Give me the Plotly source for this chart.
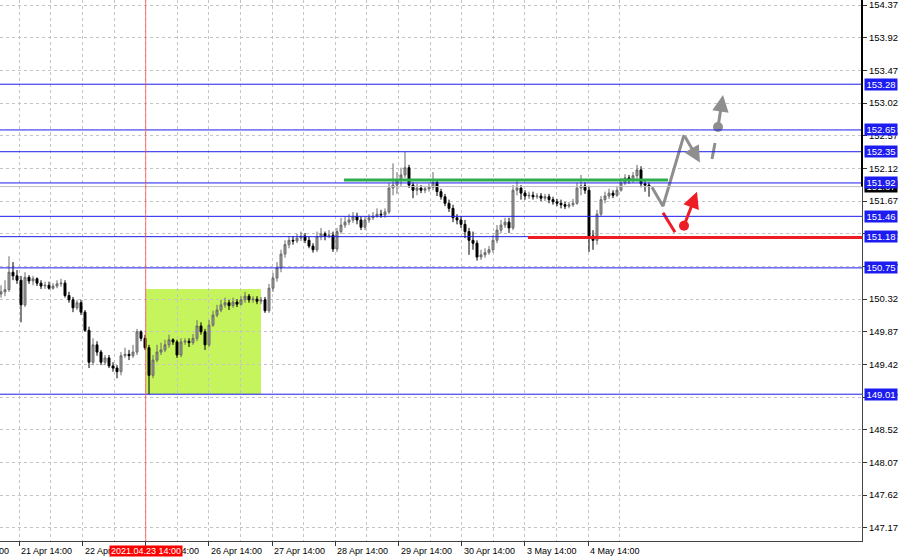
import plotly.graph_objects as go

# ---------------- data (prices) ----------------
opens = [150.39, 150.42, 150.45, 150.69, 150.64, 150.58, 150.24, 150.62, 150.57, 150.60,
         150.54, 150.50, 150.51, 150.47, 150.50, 150.53, 150.54, 150.37, 150.31, 150.20,
         150.27, 150.14, 149.89, 149.45, 149.69, 149.59, 149.45, 149.51, 149.40, 149.37,
         149.32, 149.54, 149.56, 149.54, 149.59, 149.87, 149.78, 149.65, 149.27, 149.48,
         149.59, 149.62, 149.69, 149.76, 149.73, 149.55, 149.73, 149.74, 149.72, 149.78,
         149.95, 149.87, 149.69, 149.96, 150.10, 150.17, 150.24, 150.27, 150.23, 150.28,
         150.25, 150.31, 150.36, 150.31, 150.32, 150.29, 150.31, 150.16, 150.47, 150.61,
         150.75, 150.94, 151.07, 151.13, 151.12, 151.16, 151.19, 151.13, 151.05, 151.00,
         151.18, 151.22, 151.19, 151.20, 151.01, 151.25, 151.34, 151.38, 151.41, 151.46,
         151.41, 151.31, 151.41, 151.44, 151.46, 151.49, 151.48, 151.52, 151.85, 151.89,
         151.96, 152.03, 152.13, 151.89, 151.82, 151.85, 151.82, 151.84, 151.86, 151.93,
         151.80, 151.73, 151.64, 151.57, 151.44, 151.41, 151.35, 151.25, 151.13, 151.09,
         150.90, 150.93, 150.96, 151.00, 151.13, 151.27, 151.34, 151.38, 151.30, 151.82,
         151.85, 151.78, 151.74, 151.75, 151.73, 151.74, 151.71, 151.73, 151.69, 151.66,
         151.64, 151.62, 151.60, 151.62, 151.64, 151.85, 151.88, 151.82, 151.19, 151.13,
         151.49, 151.69, 151.74, 151.78, 151.75, 151.82, 151.92, 151.99, 151.96, 152.02,
         152.10, 151.91, 151.89]
highs = [150.51, 150.58, 150.91, 150.83, 150.72, 150.64, 150.69, 150.65, 150.64, 150.62,
         150.58, 150.56, 150.56, 150.54, 150.58, 150.60, 150.58, 150.42, 150.35, 150.31,
         150.31, 150.17, 149.94, 149.78, 149.74, 149.62, 149.55, 149.55, 149.45, 149.41,
         149.59, 149.65, 149.62, 149.69, 149.91, 149.89, 149.83, 149.69, 149.55, 149.69,
         149.72, 149.76, 149.83, 149.78, 149.76, 149.78, 149.78, 149.78, 149.84, 150.03,
         150.00, 149.91, 150.03, 150.16, 150.24, 150.31, 150.34, 150.31, 150.34, 150.32,
         150.36, 150.42, 150.39, 150.36, 150.36, 150.35, 150.35, 150.53, 150.68, 150.83,
         151.00, 151.13, 151.19, 151.19, 151.22, 151.25, 151.23, 151.18, 151.09, 151.25,
         151.30, 151.25, 151.27, 151.25, 151.30, 151.44, 151.46, 151.49, 151.52, 151.51,
         151.46, 151.46, 151.49, 151.52, 151.57, 151.55, 151.57, 151.92, 152.19, 152.07,
         152.13, 152.35, 152.17, 151.93, 151.91, 151.89, 151.88, 151.91, 152.07, 151.96,
         151.84, 151.77, 151.69, 151.62, 151.49, 151.46, 151.41, 151.30, 151.25, 151.13,
         151.00, 151.02, 151.05, 151.20, 151.34, 151.41, 151.44, 151.44, 151.89, 151.96,
         151.89, 151.82, 151.80, 151.80, 151.78, 151.78, 151.77, 151.77, 151.73, 151.70,
         151.69, 151.66, 151.66, 151.70, 151.92, 152.03, 151.93, 151.88, 151.27, 151.55,
         151.74, 151.80, 151.84, 151.82, 151.88, 151.99, 152.04, 152.03, 152.07, 152.17,
         152.15, 151.96, 151.93]
lows = [150.34, 150.36, 150.42, 150.58, 150.53, 150.00, 150.21, 150.53, 150.51, 150.50,
        150.46, 150.46, 150.45, 150.45, 150.47, 150.49, 150.34, 150.27, 150.14, 150.17,
        150.10, 149.87, 149.37, 149.41, 149.54, 149.41, 149.41, 149.37, 149.32, 149.23,
        149.27, 149.51, 149.48, 149.51, 149.55, 149.74, 149.62, 149.01, 149.23, 149.45,
        149.55, 149.59, 149.65, 149.69, 149.51, 149.52, 149.69, 149.66, 149.69, 149.74,
        149.83, 149.62, 149.66, 149.94, 150.07, 150.14, 150.20, 150.17, 150.20, 150.21,
        150.23, 150.27, 150.27, 150.27, 150.25, 150.25, 150.13, 150.13, 150.42, 150.56,
        150.69, 150.89, 151.02, 151.07, 151.09, 151.12, 151.09, 151.02, 150.96, 150.97,
        151.13, 151.13, 151.16, 150.97, 150.97, 151.22, 151.30, 151.34, 151.37, 151.35,
        151.27, 151.27, 151.37, 151.41, 151.44, 151.44, 151.44, 151.49, 151.75, 151.77,
        151.88, 151.99, 151.85, 151.71, 151.75, 151.78, 151.78, 151.80, 151.82, 151.74,
        151.69, 151.60, 151.52, 151.38, 151.35, 151.30, 151.16, 150.93, 151.00, 150.85,
        150.86, 150.89, 150.93, 150.96, 151.09, 151.23, 151.30, 151.23, 151.27, 151.75,
        151.69, 151.69, 151.70, 151.69, 151.70, 151.67, 151.67, 151.64, 151.62, 151.60,
        151.57, 151.56, 151.57, 151.59, 151.62, 151.75, 151.77, 150.97, 151.00, 151.07,
        151.46, 151.64, 151.70, 151.71, 151.73, 151.80, 151.89, 151.91, 151.92, 151.96,
        151.86, 151.80, 151.73]
closes = [150.42, 150.45, 150.69, 150.64, 150.58, 150.24, 150.62, 150.57, 150.60, 150.54,
          150.50, 150.51, 150.47, 150.50, 150.53, 150.54, 150.37, 150.31, 150.20, 150.27,
          150.14, 149.89, 149.45, 149.69, 149.59, 149.45, 149.51, 149.40, 149.37, 149.32,
          149.54, 149.56, 149.54, 149.59, 149.87, 149.78, 149.65, 149.27, 149.48, 149.59,
          149.62, 149.69, 149.76, 149.73, 149.55, 149.73, 149.74, 149.72, 149.78, 149.95,
          149.87, 149.69, 149.96, 150.10, 150.17, 150.24, 150.27, 150.23, 150.28, 150.25,
          150.31, 150.36, 150.31, 150.32, 150.29, 150.31, 150.16, 150.47, 150.61, 150.75,
          150.94, 151.07, 151.13, 151.12, 151.16, 151.19, 151.13, 151.05, 151.00, 151.18,
          151.22, 151.19, 151.20, 151.01, 151.25, 151.34, 151.38, 151.41, 151.46, 151.41,
          151.31, 151.41, 151.44, 151.46, 151.49, 151.48, 151.52, 151.85, 151.89, 151.96,
          152.03, 152.13, 151.89, 151.82, 151.85, 151.82, 151.84, 151.86, 151.93, 151.80,
          151.73, 151.64, 151.57, 151.44, 151.41, 151.35, 151.25, 151.13, 151.09, 150.90,
          150.93, 150.96, 151.00, 151.13, 151.27, 151.34, 151.38, 151.30, 151.82, 151.85,
          151.78, 151.74, 151.75, 151.73, 151.74, 151.71, 151.73, 151.69, 151.66, 151.64,
          151.62, 151.60, 151.62, 151.64, 151.85, 151.88, 151.82, 151.19, 151.13, 151.49,
          151.69, 151.74, 151.78, 151.75, 151.82, 151.92, 151.99, 151.96, 152.02, 152.10,
          151.91, 151.89, 151.87]
bar_index = list(range(len(closes)))

# time axis (bar units; 15.8 bars per trading day)
day_labels = ["20 Apr 14:00", "21 Apr 14:00", "22 Apr 14:00", "23 Apr 14:00", "26 Apr 14:00",
              "27 Apr 14:00", "28 Apr 14:00", "29 Apr 14:00", "30 Apr 14:00", "3 May 14:00",
              "4 May 14:00"]
day_pos = [-11.225, 4.575, 20.375, 36.175, 51.975, 67.775, 83.575, 99.375, 115.175, 130.975, 146.775]
half_day_pos = [p + 7.9 for p in day_pos]
x_range = [-0.25, 215.25]
marker_bar = 36.175
marker_label = "2021.04.23 14:00"

# price axis
y_range = [146.988, 154.44]
y_ticks = [147.17, 147.62, 148.07, 148.52, 148.97, 149.42, 149.87, 150.32, 150.77,
           151.22, 151.67, 152.12, 152.57, 153.02, 153.47, 153.92, 154.37]
level_prices = [153.28, 152.65, 152.35, 151.92, 151.46, 151.18, 150.75, 149.01]
bid_price = 151.87

# drawings
box_bars = [36.175, 65.0]
box_prices = [149.01, 150.46]
green_bars = [85.75, 166.75]
green_price = 151.96
red_bars = [131.75, 215.25]
red_price = 151.17
gray_path_x = [162.75, 165.5, 170.75]
gray_path_y = [151.86, 151.60, 152.58]
gray_arrow_head = (174.75, 152.20)
gray_dash_x = [177.75, 178.5]
gray_dash_y = [152.25, 152.47]
gray_dot = (179.25, 152.69)
gray_dot_head = (180.5, 153.13)
red_dash_x = [165.5, 168.5]
red_dash_y = [151.51, 151.24]
red_dot = (170.75, 151.33)
red_dot_head = (174.0, 151.80)

FONT = "Liberation Sans"
FS = 9.5
BLUE = "#1c1cf0"
GRID = "#c4c4c4"
GRAY = "#8e8e8e"
RED = "#ee1c25"

fig = go.Figure()
fig.add_trace(go.Candlestick(
    x=bar_index, open=opens, high=highs, low=lows, close=closes,
    increasing=dict(line=dict(color="#6a6a6a", width=1), fillcolor="#9c9c9c"),
    decreasing=dict(line=dict(color="#000000", width=1), fillcolor="#000000"),
    whiskerwidth=0, hoverinfo="skip", showlegend=False))

# forecast drawings
fig.add_trace(go.Scatter(x=gray_path_x, y=gray_path_y, mode="lines",
                         line=dict(color=GRAY, width=3), hoverinfo="skip"))
fig.add_trace(go.Scatter(x=gray_dash_x, y=gray_dash_y, mode="lines",
                         line=dict(color=GRAY, width=3), hoverinfo="skip"))
fig.add_trace(go.Scatter(x=[gray_dot[0]], y=[gray_dot[1]], mode="markers",
                         marker=dict(color=GRAY, size=10), hoverinfo="skip"))
fig.add_trace(go.Scatter(x=red_dash_x, y=red_dash_y, mode="lines",
                         line=dict(color=RED, width=3), hoverinfo="skip"))
fig.add_trace(go.Scatter(x=[red_dot[0]], y=[red_dot[1]], mode="markers",
                         marker=dict(color=RED, size=10), hoverinfo="skip"))

for tail, head, col in [((gray_path_x[-1], gray_path_y[-1]), gray_arrow_head, GRAY),
                        (gray_dot, gray_dot_head, GRAY),
                        (red_dot, red_dot_head, RED)]:
    fig.add_annotation(x=head[0], y=head[1], ax=tail[0], ay=tail[1], xref="x", yref="y",
                       axref="x", ayref="y", text="", showarrow=True, arrowhead=2,
                       arrowsize=1.1, arrowwidth=3, arrowcolor=col)

# shapes
fig.add_shape(type="rect", x0=box_bars[0], x1=box_bars[1], y0=box_prices[0], y1=box_prices[1],
              fillcolor="rgb(198,244,92)", line=dict(width=0), layer="below")
for p in level_prices:
    fig.add_shape(type="line", xref="paper", x0=0, x1=1, y0=p, y1=p,
                  line=dict(color=BLUE, width=1), layer="above")
fig.add_shape(type="line", xref="paper", x0=0, x1=1, y0=bid_price, y1=bid_price,
              line=dict(color="#c0c0c0", width=1), layer="above")
fig.add_shape(type="line", x0=green_bars[0], x1=green_bars[1], y0=green_price, y1=green_price,
              line=dict(color="#2eae4a", width=3), layer="above")
fig.add_shape(type="line", x0=red_bars[0], x1=red_bars[1], y0=red_price, y1=red_price,
              line=dict(color=RED, width=3), layer="above")
fig.add_shape(type="line", x0=marker_bar, x1=marker_bar, yref="paper", y0=0, y1=1,
              line=dict(color="rgba(255,80,80,0.8)", width=1), layer="above")
fig.add_shape(type="line", xref="paper", x0=1, x1=1, y0=bid_price, y1=y_range[1],
              line=dict(color="#000000", width=2), layer="above")

# right-hand price labels
fig.add_annotation(xref="paper", x=1, xanchor="left", xshift=2, yref="y", y=bid_price,
                   yanchor="middle", text=f"{bid_price:.2f}", showarrow=False, bgcolor="#000000",
                   font=dict(color="white", size=FS, family=FONT), borderpad=0, width=32)
for p in level_prices:
    fig.add_annotation(xref="paper", x=1, xanchor="left", xshift=2, yref="y", y=p,
                       yanchor="middle", text=f"{p:.2f}", showarrow=False, bgcolor=BLUE,
                       font=dict(color="white", size=FS, family=FONT), borderpad=0, width=32)

# bottom time labels (left-aligned at their tick)
span = x_range[1] - x_range[0]
for pos, lab in zip(day_pos, day_labels):
    fig.add_annotation(xref="paper", x=(pos - x_range[0]) / span, xanchor="left", yref="paper",
                       y=0, yanchor="middle", yshift=-9.5, text=lab, showarrow=False,
                       font=dict(color="black", size=9, family=FONT))
fig.add_annotation(xref="paper", x=(marker_bar - x_range[0]) / span, xanchor="center",
                   yref="paper", y=0, yanchor="middle", yshift=-10, text=marker_label,
                   showarrow=False, bgcolor="#ff0000", borderpad=0, width=72,
                   font=dict(color="white", size=9, family=FONT))

fig.update_layout(
    width=900, height=559, margin=dict(l=0, r=38, t=0, b=18),
    paper_bgcolor="white", plot_bgcolor="white", showlegend=False,
    xaxis=dict(range=x_range, rangeslider=dict(visible=False), showticklabels=False,
               tickmode="array", tickvals=day_pos, ticks="outside", ticklen=4,
               tickcolor="#333333", showgrid=True, gridcolor=GRID, griddash="3px,3px",
               minor=dict(tickmode="array", tickvals=half_day_pos, showgrid=True,
                          gridcolor=GRID, griddash="3px,3px", ticks=""),
               showline=True, linecolor="#444444", linewidth=1, zeroline=False),
    yaxis=dict(side="right", range=y_range, tickmode="array", tickvals=y_ticks,
               ticktext=[f"{v:.2f}" for v in y_ticks], ticks="outside", ticklen=4,
               tickcolor="#333333", showgrid=True, gridcolor=GRID, griddash="3px,3px",
               showline=True, linecolor="#444444", linewidth=1, zeroline=False,
               ticklabeloverflow="allow",
               tickfont=dict(family=FONT, size=FS, color="black")),
)

fig.write_html("out.html", config={"displayModeBar": False},
               post_script="document.body.style.margin='0';")
